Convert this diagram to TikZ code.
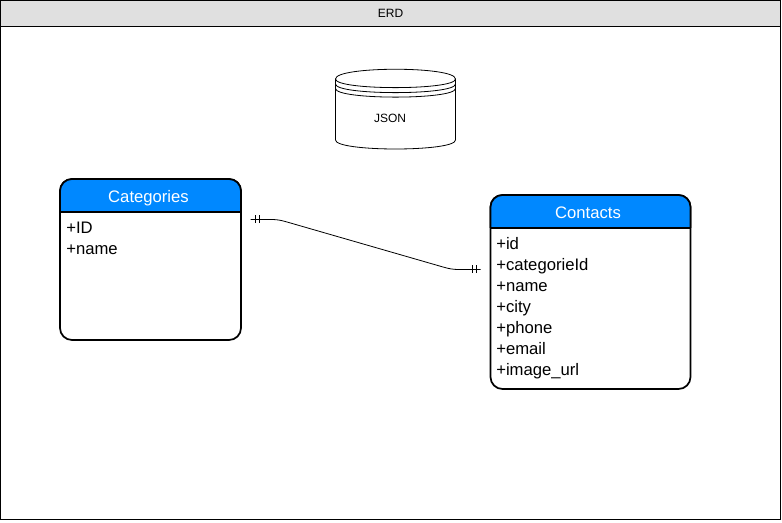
\documentclass[tikz,border=0pt]{standalone}
\usepackage{fontspec}
\setmainfont{Liberation Sans}
\definecolor{hdrblue}{HTML}{0088FF}
\definecolor{hdrgray}{HTML}{E0E0E0}
\begin{document}
\begin{tikzpicture}[x=0.75pt,y=-0.75pt, every node/.style={font=\fontsize{12.5}{15.75}\selectfont,inner sep=0pt},
  entity/.style={draw,line width=1.3pt,rounded corners=9pt,inner sep=0pt},
  title/.style={text=white,anchor=base},
  rows/.style={align=left,anchor=north west},
  small/.style={font=\fontsize{9}{11}\selectfont},
  rel/.style={line width=0.6pt}]
\useasboundingbox (0,0) rectangle (782,523);
% frame
\draw[line width=0.75pt,fill=white] (0.5,0.5) rectangle (780.5,519.5);
\draw[line width=0.75pt,fill=hdrgray] (0.5,0.5) rectangle (780.5,26.5);
\node[small] (erd) at (390.5,13.5) {ERD};
% database
\draw[line width=0.6pt] (335.5,79) .. controls (335.5,66) and (455.5,66) .. (455.5,79)
  -- (455.5,140) .. controls (455.5,152) and (335.5,152) .. (335.5,140) -- cycle;
\foreach \dy in {0,5,9.5}
  \draw[line width=0.6pt] (335.5,79+\dy) .. controls (335.5,90.5+\dy) and (455.5,90.5+\dy) .. (455.5,79+\dy);
\node[small] (json) at (390,118.5) {JSON};
% tables
\node[entity,minimum width=135.75pt,minimum height=120.75pt] (cat) at (150.5,259.5) {};
\fill[hdrblue] (60,212) [rounded corners=9pt] -- (60,179) -- (241,179) [sharp corners] -- (241,212) -- cycle;
\draw[line width=1.3pt,rounded corners=9pt] (60,212) -- (60,179) -- (241,179) -- (241,212);
\draw[line width=0.9pt] (60,212) -- (241,212);
\node[title] (catTitle) at (148.5,202.5) {Categories};
\node[rows] (catRows) at (66,222) {+ID\\+name};
\node[entity,minimum width=150pt,minimum height=145.5pt] (con) at (590.5,292) {};
\fill[hdrblue] (490.5,228) [rounded corners=9pt] -- (490.5,195) -- (690.5,195) [sharp corners] -- (690.5,228) -- cycle;
\draw[line width=1.3pt,rounded corners=9pt] (490.5,228) -- (490.5,195) -- (690.5,195) -- (690.5,228);
\draw[line width=0.9pt] (490.5,228) -- (690.5,228);
\node[title] (conTitle) at (588,218.5) {Contacts};
\node[rows] (conRows) at (496,237) {+id\\+categorieId\\+name\\+city\\+phone\\+email\\+image\_url};
% relation
\coordinate (catEnd) at (250.5,219.5);
\coordinate (conEnd) at (480.5,269.5);
\draw[rel] (catEnd) -- (270,219.5) .. controls (277,219.5) and (280,220) .. (287,222)
  -- (443,267) .. controls (450,269) and (453,269.5) .. (460,269.5) -- (conEnd);
\foreach \x in {5,8.5}
  \draw[rel] ([xshift=\x*0.75pt,yshift=3pt]catEnd) -- ([xshift=\x*0.75pt,yshift=-3pt]catEnd);
\foreach \x in {4,8.5}
  \draw[rel] ([xshift=-\x*0.75pt,yshift=3pt]conEnd) -- ([xshift=-\x*0.75pt,yshift=-3pt]conEnd);
\end{tikzpicture}
\end{document}
